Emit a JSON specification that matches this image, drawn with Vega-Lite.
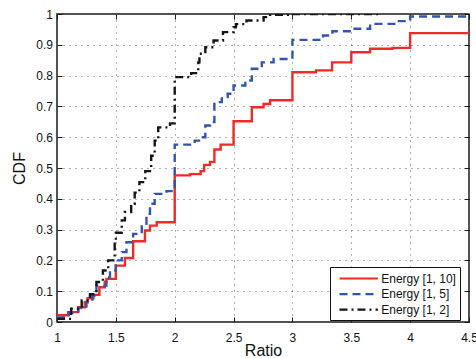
{
  "$schema": "https://vega.github.io/schema/vega-lite/v6.json",
  "autosize": {"type": "none"},
  "width": 412,
  "height": 308,
  "padding": {"left": 57, "top": 14, "right": 7, "bottom": 36},
  "background": "white",
  "config": {
    "font": "Liberation Sans",
    "view": {"stroke": "#1a1a1a", "strokeWidth": 1.5},
    "axis": {
      "labelFont": "Liberation Sans",
      "labelFontSize": 12,
      "labelColor": "#111",
      "titleFont": "Liberation Sans",
      "titleFontSize": 16,
      "titleFontWeight": "normal",
      "titleColor": "#111",
      "domain": false,
      "tickColor": "#1a1a1a",
      "tickSize": -5,
      "tickWidth": 1,
      "grid": true,
      "gridColor": "#555",
      "gridDash": [1, 5],
      "gridWidth": 1,
      "gridOpacity": 0.9
    }
  },
  "data": {
    "values": [
      {"series": "Energy [1, 10]", "x": 1.0, "y": 0.022},
      {"series": "Energy [1, 10]", "x": 1.094, "y": 0.032},
      {"series": "Energy [1, 10]", "x": 1.18, "y": 0.048},
      {"series": "Energy [1, 10]", "x": 1.236, "y": 0.064},
      {"series": "Energy [1, 10]", "x": 1.26, "y": 0.077},
      {"series": "Energy [1, 10]", "x": 1.31, "y": 0.088},
      {"series": "Energy [1, 10]", "x": 1.36, "y": 0.113},
      {"series": "Energy [1, 10]", "x": 1.406, "y": 0.131},
      {"series": "Energy [1, 10]", "x": 1.42, "y": 0.14},
      {"series": "Energy [1, 10]", "x": 1.5, "y": 0.183},
      {"series": "Energy [1, 10]", "x": 1.577, "y": 0.208},
      {"series": "Energy [1, 10]", "x": 1.647, "y": 0.262},
      {"series": "Energy [1, 10]", "x": 1.747, "y": 0.297},
      {"series": "Energy [1, 10]", "x": 1.79, "y": 0.313},
      {"series": "Energy [1, 10]", "x": 1.847, "y": 0.324},
      {"series": "Energy [1, 10]", "x": 2.0, "y": 0.476},
      {"series": "Energy [1, 10]", "x": 2.13, "y": 0.48},
      {"series": "Energy [1, 10]", "x": 2.22, "y": 0.49},
      {"series": "Energy [1, 10]", "x": 2.25, "y": 0.51},
      {"series": "Energy [1, 10]", "x": 2.3, "y": 0.52},
      {"series": "Energy [1, 10]", "x": 2.337, "y": 0.56},
      {"series": "Energy [1, 10]", "x": 2.39, "y": 0.576},
      {"series": "Energy [1, 10]", "x": 2.5, "y": 0.652},
      {"series": "Energy [1, 10]", "x": 2.655, "y": 0.697},
      {"series": "Energy [1, 10]", "x": 2.755, "y": 0.708},
      {"series": "Energy [1, 10]", "x": 2.81, "y": 0.72},
      {"series": "Energy [1, 10]", "x": 3.0, "y": 0.811},
      {"series": "Energy [1, 10]", "x": 3.2, "y": 0.817},
      {"series": "Energy [1, 10]", "x": 3.337, "y": 0.843},
      {"series": "Energy [1, 10]", "x": 3.5, "y": 0.876},
      {"series": "Energy [1, 10]", "x": 3.66, "y": 0.887},
      {"series": "Energy [1, 10]", "x": 3.85, "y": 0.89},
      {"series": "Energy [1, 10]", "x": 4.0, "y": 0.938},
      {"series": "Energy [1, 10]", "x": 4.5, "y": 0.946},
      {"series": "Energy [1, 5]", "x": 1.0, "y": 0.015},
      {"series": "Energy [1, 5]", "x": 1.1, "y": 0.03},
      {"series": "Energy [1, 5]", "x": 1.18, "y": 0.045},
      {"series": "Energy [1, 5]", "x": 1.25, "y": 0.065},
      {"series": "Energy [1, 5]", "x": 1.3, "y": 0.085},
      {"series": "Energy [1, 5]", "x": 1.335, "y": 0.118},
      {"series": "Energy [1, 5]", "x": 1.42, "y": 0.145},
      {"series": "Energy [1, 5]", "x": 1.45, "y": 0.167},
      {"series": "Energy [1, 5]", "x": 1.5, "y": 0.2},
      {"series": "Energy [1, 5]", "x": 1.55, "y": 0.227},
      {"series": "Energy [1, 5]", "x": 1.59, "y": 0.259},
      {"series": "Energy [1, 5]", "x": 1.647, "y": 0.286},
      {"series": "Energy [1, 5]", "x": 1.72, "y": 0.319},
      {"series": "Energy [1, 5]", "x": 1.76, "y": 0.351},
      {"series": "Energy [1, 5]", "x": 1.79, "y": 0.384},
      {"series": "Energy [1, 5]", "x": 1.83, "y": 0.416},
      {"series": "Energy [1, 5]", "x": 1.93, "y": 0.425},
      {"series": "Energy [1, 5]", "x": 2.0, "y": 0.576},
      {"series": "Energy [1, 5]", "x": 2.17, "y": 0.589},
      {"series": "Energy [1, 5]", "x": 2.22, "y": 0.6},
      {"series": "Energy [1, 5]", "x": 2.26, "y": 0.638},
      {"series": "Energy [1, 5]", "x": 2.3, "y": 0.649},
      {"series": "Energy [1, 5]", "x": 2.337, "y": 0.714},
      {"series": "Energy [1, 5]", "x": 2.4, "y": 0.73},
      {"series": "Energy [1, 5]", "x": 2.45, "y": 0.741},
      {"series": "Energy [1, 5]", "x": 2.5, "y": 0.768},
      {"series": "Energy [1, 5]", "x": 2.6, "y": 0.784},
      {"series": "Energy [1, 5]", "x": 2.655, "y": 0.822},
      {"series": "Energy [1, 5]", "x": 2.74, "y": 0.843},
      {"series": "Energy [1, 5]", "x": 2.84, "y": 0.854},
      {"series": "Energy [1, 5]", "x": 3.0, "y": 0.916},
      {"series": "Energy [1, 5]", "x": 3.26, "y": 0.93},
      {"series": "Energy [1, 5]", "x": 3.34, "y": 0.944},
      {"series": "Energy [1, 5]", "x": 3.5, "y": 0.952},
      {"series": "Energy [1, 5]", "x": 3.66, "y": 0.968},
      {"series": "Energy [1, 5]", "x": 3.89, "y": 0.977},
      {"series": "Energy [1, 5]", "x": 4.0, "y": 0.992},
      {"series": "Energy [1, 5]", "x": 4.5, "y": 0.995},
      {"series": "Energy [1, 2]", "x": 1.0, "y": 0.01},
      {"series": "Energy [1, 2]", "x": 1.12, "y": 0.043},
      {"series": "Energy [1, 2]", "x": 1.21, "y": 0.07},
      {"series": "Energy [1, 2]", "x": 1.28, "y": 0.09},
      {"series": "Energy [1, 2]", "x": 1.335, "y": 0.13},
      {"series": "Energy [1, 2]", "x": 1.39, "y": 0.167},
      {"series": "Energy [1, 2]", "x": 1.435, "y": 0.2},
      {"series": "Energy [1, 2]", "x": 1.49, "y": 0.26},
      {"series": "Energy [1, 2]", "x": 1.5, "y": 0.29},
      {"series": "Energy [1, 2]", "x": 1.55, "y": 0.33},
      {"series": "Energy [1, 2]", "x": 1.577, "y": 0.357},
      {"series": "Energy [1, 2]", "x": 1.63, "y": 0.384},
      {"series": "Energy [1, 2]", "x": 1.66, "y": 0.42},
      {"series": "Energy [1, 2]", "x": 1.7, "y": 0.454},
      {"series": "Energy [1, 2]", "x": 1.75, "y": 0.49},
      {"series": "Energy [1, 2]", "x": 1.8, "y": 0.54},
      {"series": "Energy [1, 2]", "x": 1.83, "y": 0.589},
      {"series": "Energy [1, 2]", "x": 1.86, "y": 0.632},
      {"series": "Energy [1, 2]", "x": 1.96, "y": 0.645},
      {"series": "Energy [1, 2]", "x": 2.0, "y": 0.795},
      {"series": "Energy [1, 2]", "x": 2.14, "y": 0.808},
      {"series": "Energy [1, 2]", "x": 2.2, "y": 0.843},
      {"series": "Energy [1, 2]", "x": 2.21, "y": 0.871},
      {"series": "Energy [1, 2]", "x": 2.26, "y": 0.892},
      {"series": "Energy [1, 2]", "x": 2.33, "y": 0.914},
      {"series": "Energy [1, 2]", "x": 2.41, "y": 0.941},
      {"series": "Energy [1, 2]", "x": 2.5, "y": 0.957},
      {"series": "Energy [1, 2]", "x": 2.52, "y": 0.967},
      {"series": "Energy [1, 2]", "x": 2.61, "y": 0.979},
      {"series": "Energy [1, 2]", "x": 2.755, "y": 0.99},
      {"series": "Energy [1, 2]", "x": 2.81, "y": 0.997},
      {"series": "Energy [1, 2]", "x": 3.0, "y": 1.0},
      {"series": "Energy [1, 2]", "x": 3.75, "y": 1.0}
    ]
  },
  "layer": [
    {
      "mark": {"type": "line", "interpolate": "step-after", "strokeWidth": 2.4, "clip": true},
      "encoding": {
        "x": {
          "field": "x", "type": "quantitative",
          "scale": {"domain": [1, 4.5], "nice": false, "zero": false},
          "axis": {"title": "Ratio", "values": [1, 1.5, 2, 2.5, 3, 3.5, 4, 4.5], "format": "~g", "labelPadding": 15, "titlePadding": -1, "labelFlush": false}
        },
        "y": {
          "field": "y", "type": "quantitative",
          "scale": {"domain": [0, 1], "nice": false},
          "axis": {"title": "CDF", "values": [0, 0.1, 0.2, 0.3, 0.4, 0.5, 0.6, 0.7, 0.8, 0.9, 1], "format": "~g", "labelPadding": 9.5, "titlePadding": 8}
        },
        "color": {
          "field": "series", "type": "nominal",
          "scale": {"domain": ["Energy [1, 10]", "Energy [1, 5]", "Energy [1, 2]"], "range": ["#ee2a2a", "#3355aa", "#151515"]},
          "legend": {
            "title": null, "orient": "none", "legendX": 273, "legendY": 253,
            "symbolType": "M-3.2,0L3.2,0", "symbolSize": 144, "symbolStrokeWidth": 2.2,
            "symbolOffset": 17.2,
            "labelFont": "Liberation Sans", "labelFontSize": 12, "labelColor": "#111",
            "strokeColor": "#111", "fillColor": "white", "padding": 4, "rowPadding": 1.6,
            "labelOffset": 15
          }
        },
        "strokeDash": {
          "field": "series", "type": "nominal",
          "scale": {"domain": ["Energy [1, 10]", "Energy [1, 5]", "Energy [1, 2]"], "range": [[1, 0], [8, 5], [8, 4, 2, 4]]},
          "legend": null
        }
      }
    },
    {
      "mark": {"type": "line", "opacity": 0},
      "encoding": {
        "x": {
          "field": "x", "type": "quantitative",
          "axis": {"orient": "top", "title": null, "labels": false, "grid": false, "values": [1, 1.5, 2, 2.5, 3, 3.5, 4, 4.5]}
        },
        "y": {
          "field": "y", "type": "quantitative",
          "axis": {"orient": "right", "title": null, "labels": false, "grid": false, "values": [0, 0.1, 0.2, 0.3, 0.4, 0.5, 0.6, 0.7, 0.8, 0.9, 1]}
        },
        "detail": {"field": "series"}
      }
    }
  ],
  "resolve": {"axis": {"x": "independent", "y": "independent"}}
}
